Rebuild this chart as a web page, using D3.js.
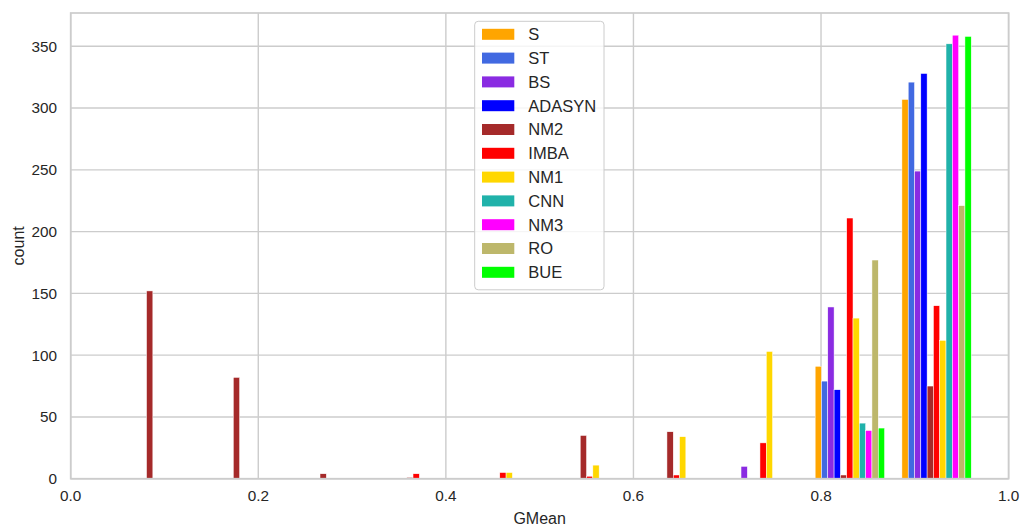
<!DOCTYPE html>
<html>
<head>
<meta charset="utf-8">
<script src="https://cdn.jsdelivr.net/npm/d3@7"></script>
<style>
  html, body { margin: 0; padding: 0; background: #fff; }
  svg { display: block; font-family: Arial, "Liberation Sans", sans-serif; }
</style>
</head>
<body>
<svg id="chart" width="1022" height="530"></svg>
<script>
// Histogram bin edges (GMean)
const binEdges = [0.0447, 0.1372, 0.2297, 0.3221, 0.4146, 0.5071, 0.5996, 0.6920, 0.7845, 0.8770, 0.9694];

// Methods, in legend order
const methods = ["S", "ST", "BS", "ADASYN", "NM2", "IMBA", "NM1", "CNN", "NM3", "RO", "BUE"];
const colors  = ["#ffa500", "#4169e1", "#8a2be2", "#0000ff", "#a52a2a", "#ff0000", "#ffd700", "#20b2aa", "#ff00ff", "#bdb76b", "#00ff00"];

// Counts per bin for each method
const countsS      = [0, 0, 0, 0, 0, 0, 0, 0, 91, 307];
const countsST     = [0, 0, 0, 0, 0, 0, 0, 0, 79, 321];
const countsBS     = [0, 0, 0, 0, 0, 0, 0, 10, 139, 249];
const countsADASYN = [0, 0, 0, 0, 0, 0, 0, 0, 72, 328];
const countsNM2    = [152, 82, 4, 1, 0, 35, 38, 0, 3, 75];
const countsIMBA   = [0, 0, 0, 4, 5, 2, 3, 29, 211, 140];
const countsNM1    = [0, 0, 0, 0, 5, 11, 34, 103, 130, 112];
const countsCNN    = [0, 0, 0, 0, 0, 0, 0, 0, 45, 352];
const countsNM3    = [0, 0, 0, 0, 0, 0, 0, 0, 39, 359];
const countsRO     = [0, 0, 0, 0, 0, 0, 0, 0, 177, 221];
const countsBUE    = [0, 0, 0, 0, 0, 0, 0, 0, 41, 358];

const xTicks = [0.0, 0.2, 0.4, 0.6, 0.8, 1.0];
const yTicks = [0, 50, 100, 150, 200, 250, 300, 350];

const series = [countsS, countsST, countsBS, countsADASYN, countsNM2, countsIMBA,
                countsNM1, countsCNN, countsNM3, countsRO, countsBUE];

const svg = d3.select("#chart");
const plot = { left: 70.7, right: 1008.6, top: 13, bottom: 478.7 };
const textColor = "#262626";
const gridColor = "#cccccc";
const tickSize = 15.3, labelSize = 16, legendSize = 16.5;

const yMax = d3.max(series.flat()) * 1.05;
const x = d3.scaleLinear().domain([0, 1]).range([plot.left, plot.right]);
const y = d3.scaleLinear().domain([0, yMax]).range([plot.bottom, plot.top]);

// grid
const grid = svg.append("g");
grid.selectAll("line.gx").data(xTicks).join("line")
  .attr("x1", d => x(d)).attr("x2", d => x(d))
  .attr("y1", plot.top).attr("y2", plot.bottom)
  .attr("stroke", gridColor).attr("stroke-width", 1.4);
grid.selectAll("line.gy").data(yTicks).join("line")
  .attr("x1", plot.left).attr("x2", plot.right)
  .attr("y1", d => y(d)).attr("y2", d => y(d))
  .attr("stroke", gridColor).attr("stroke-width", 1.4);

// bars: grouped histogram, 80% of each bin shared among the methods
const n = methods.length;
const bars = [];
series.forEach((counts, si) => {
  counts.forEach((c, bi) => {
    if (c <= 0) return;
    const b0 = binEdges[bi], b1 = binEdges[bi + 1];
    const w = (b1 - b0) * 0.8 / n;
    const left = b0 + (b1 - b0) * 0.1 + si * w;
    bars.push({ si, left, w, c });
  });
});
svg.append("g").selectAll("rect").data(bars).join("rect")
  .attr("x", d => x(d.left))
  .attr("width", d => x(d.left + d.w) - x(d.left))
  .attr("y", d => y(d.c))
  .attr("height", d => y(0) - y(d.c))
  .attr("fill", d => colors[d.si])
  .attr("stroke", "#ffffff").attr("stroke-width", 0.5);

// frame
svg.append("rect")
  .attr("x", plot.left).attr("y", plot.top)
  .attr("width", plot.right - plot.left).attr("height", plot.bottom - plot.top)
  .attr("fill", "none").attr("stroke", gridColor).attr("stroke-width", 1.7);

// tick labels
svg.append("g").selectAll("text").data(xTicks).join("text")
  .attr("x", d => x(d)).attr("y", 500.5)
  .attr("text-anchor", "middle")
  .attr("font-size", tickSize).attr("fill", textColor)
  .text(d => d3.format(".1f")(d));
svg.append("g").selectAll("text").data(yTicks).join("text")
  .attr("x", 57).attr("y", d => y(d) + 5.4)
  .attr("text-anchor", "end")
  .attr("font-size", tickSize).attr("fill", textColor)
  .text(d => d);

// axis titles
svg.append("text")
  .attr("x", (plot.left + plot.right) / 2).attr("y", 524)
  .attr("text-anchor", "middle")
  .attr("font-size", labelSize).attr("fill", textColor)
  .text("GMean");
svg.append("text")
  .attr("transform", `translate(24,${(plot.top + plot.bottom) / 2}) rotate(-90)`)
  .attr("text-anchor", "middle")
  .attr("font-size", labelSize).attr("fill", textColor)
  .text("count");

// legend
const lg = svg.append("g");
lg.append("rect")
  .attr("x", 474.7).attr("y", 21.3).attr("width", 129.3).attr("height", 268.5)
  .attr("rx", 3.5)
  .attr("fill", "#ffffff").attr("fill-opacity", 0.8)
  .attr("stroke", gridColor).attr("stroke-width", 1);
const rows = lg.selectAll("g.row").data(methods).join("g")
  .attr("transform", (d, i) => `translate(0,${34.3 + i * 23.8})`);
rows.append("rect")
  .attr("x", 482).attr("y", -5.5).attr("width", 32.3).attr("height", 11)
  .attr("fill", (d, i) => colors[i]);
rows.append("text")
  .attr("x", 528.3).attr("y", 5.9)
  .attr("font-size", legendSize).attr("fill", textColor)
  .text(d => d);
</script>
</body>
</html>
